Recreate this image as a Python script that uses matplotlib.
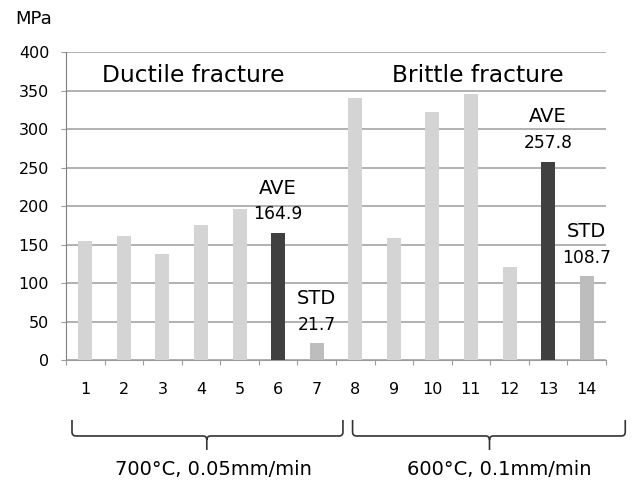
import matplotlib
matplotlib.use("Agg")
import matplotlib.pyplot as plt
from matplotlib.path import Path
from matplotlib.patches import PathPatch


# ---------------------------------------------------------
# Data
# ---------------------------------------------------------

specimens = list(range(1, 15))
tick_labels = [str(s) for s in specimens]

strength = [155, 161, 138, 175, 196, 164.9, 21.7,
            340, 158, 322, 346, 121, 257.8, 108.7]

bar_kind = ["val", "val", "val", "val", "val", "ave", "std",
            "val", "val", "val", "val", "val", "ave", "std"]

group_titles = ["Ductile fracture", "Brittle fracture"]
group_conditions = ["700\u00b0C, 0.05mm/min", "600\u00b0C, 0.1mm/min"]

kind_colors = {"val": "#d4d4d4", "ave": "#404040", "std": "#bdbdbd"}
kind_words = {"ave": "AVE", "std": "STD"}


# ---------------------------------------------------------
# Style
# ---------------------------------------------------------

plt.rcParams["font.family"] = ["DejaVu Sans"]
plt.rcParams["font.size"] = 11


def draw_brace(ax, x0, x1, xm, y_top, y_bar, y_tip, rx=0.1, ry=0.013):
    tr = ax.get_xaxis_transform()
    verts = [
        (x0, y_top), (x0, y_bar + ry),
        (x0, y_bar), (x0 + rx, y_bar),
        (xm - rx, y_bar),
        (xm, y_bar), (xm, y_bar - ry),
        (xm, y_tip),
        (xm, y_bar - ry),
        (xm, y_bar), (xm + rx, y_bar),
        (x1 - rx, y_bar),
        (x1, y_bar), (x1, y_bar + ry),
        (x1, y_top),
    ]
    codes = [
        Path.MOVETO, Path.LINETO,
        Path.CURVE3, Path.CURVE3,
        Path.LINETO,
        Path.CURVE3, Path.CURVE3,
        Path.LINETO,
        Path.MOVETO,
        Path.CURVE3, Path.CURVE3,
        Path.LINETO,
        Path.CURVE3, Path.CURVE3,
        Path.LINETO,
    ]
    patch = PathPatch(Path(verts, codes), transform=tr, fill=False,
                      edgecolor="#333333", linewidth=1.2, clip_on=False)
    ax.add_patch(patch)


# ---------------------------------------------------------
# Plot
# ---------------------------------------------------------

fig = plt.figure(figsize=(6.36, 4.83), dpi=100)
ax = fig.add_axes([0.1038, 0.2547, 0.849, 0.637])

colors = [kind_colors[k] for k in bar_kind]
ax.bar(specimens, strength, width=0.36, color=colors, zorder=3)

ax.set_xlim(0.5, 14.5)
ax.set_ylim(0, 400)
ax.set_yticks(range(0, 401, 50))
ax.yaxis.grid(True, color="#9c9c9c", linewidth=1.1, zorder=0)
ax.set_axisbelow(True)

# x ticks sit between categories, labels at the centers
ax.set_xticks([s + 0.5 for s in [0] + specimens])
ax.set_xticklabels([])
ax.set_xticks(specimens, minor=True)
ax.set_xticklabels(tick_labels, minor=True)
ax.tick_params(axis="x", which="major", length=3.6, color="#9c9c9c",
               direction="out")
ax.tick_params(axis="x", which="minor", length=0, pad=16, labelsize=11.5)
ax.tick_params(axis="y", length=3.6, color="#9c9c9c", pad=8.5,
               labelsize=11.5)

for side in ["top", "right"]:
    ax.spines[side].set_visible(False)
ax.spines["left"].set_color("#808080")
ax.spines["bottom"].set_color("#9c9c9c")

# AVE / STD labels
for x, v, k in zip(specimens, strength, bar_kind):
    if k == "val":
        continue
    ax.annotate(f"{v:.1f}", (x, v), xytext=(0, 13.5), textcoords="offset points",
                ha="center", va="center", fontsize=12.3)
    ax.annotate(kind_words[k], (x, v), xytext=(0, 32.5),
                textcoords="offset points", ha="center", va="center",
                fontsize=14)

# group titles
ax.text(3.79, 370, group_titles[0], ha="center", va="center", fontsize=16.8)
ax.text(11.17, 370, group_titles[1], ha="center", va="center", fontsize=16.8)

# braces and conditions
draw_brace(ax, 0.655, 7.68, 4.15, -0.195, -0.247, -0.2925)
draw_brace(ax, 7.93, 15.0, 11.48, -0.195, -0.247, -0.2925)

tr = ax.get_xaxis_transform()
ax.text(4.32, -0.357, group_conditions[0], transform=tr,
        ha="center", va="center", fontsize=14)
ax.text(11.72, -0.357, group_conditions[1], transform=tr,
        ha="center", va="center", fontsize=14)

fig.text(0.0535, 0.961, "MPa", ha="center", va="center", fontsize=13)

fig.savefig("out.png", dpi=100)
plt.close(fig)
